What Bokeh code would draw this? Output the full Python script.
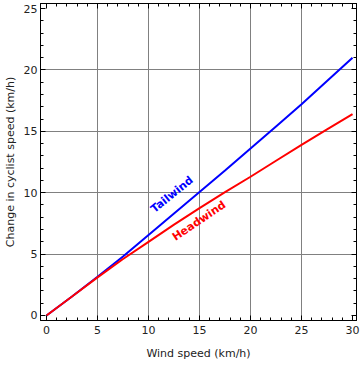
from bokeh.plotting import figure
from bokeh.models import SingleIntervalTicker, FixedTicker, LinearAxis, Range1d
from bokeh.core.properties import value
from bokeh.embed import file_html
from bokeh.resources import INLINE

wind = [0, 2.5, 5, 7.5, 10, 12.5, 15, 17.5, 20, 22.5, 25, 27.5, 30]
tailwind = [0, 1.55, 3.15, 4.8, 6.55, 8.3, 10.05, 11.8, 13.6, 15.4, 17.2, 19.1, 21.0]
headwind = [0, 1.55, 3.1, 4.6, 6.0, 7.4, 8.75, 10.05, 11.3, 12.6, 13.9, 15.15, 16.4]
label_text = ["Tailwind", "Headwind"]
label_x = [12.3, 14.95]
label_y = [9.85, 7.7]
x_major = [0, 5, 10, 15, 20, 25, 30]
x_minor = list(range(0, 31))
y_major = [0, 5, 10, 15, 20, 25]
y_minor = list(range(0, 26))

FONT = "DejaVu Sans"
TXT = "#222222"

p = figure(width=360, height=365, output_backend="svg", toolbar_location=None,
           x_range=Range1d(-0.59, 30.39), y_range=Range1d(-0.41, 25.41),
           min_border_left=40, min_border_right=4, min_border_top=3, min_border_bottom=45,
           x_axis_label="Wind speed (km/h)", y_axis_label="Change in cyclist speed (km/h)")
p.background_fill_color = "white"
p.border_fill_color = "white"
p.outline_line_color = "black"
p.outline_line_width = 1

for g in (p.xgrid, p.ygrid):
    g.grid_line_color = "#808080"
    g.grid_line_width = 1
p.xgrid.ticker = FixedTicker(ticks=x_major[1:-1])
p.ygrid.ticker = FixedTicker(ticks=y_major[1:-1])

def style(ax):
    ax.ticker = SingleIntervalTicker(interval=5, num_minor_ticks=5)
    ax.axis_line_color = "black"
    ax.major_tick_line_color = "black"
    ax.minor_tick_line_color = "black"
    ax.major_tick_in = 5
    ax.major_tick_out = 0
    ax.minor_tick_in = 3
    ax.minor_tick_out = 0
    ax.major_label_text_font = FONT
    ax.major_label_text_font_size = "11px"
    ax.major_label_text_color = TXT
    ax.major_label_standoff = 5
    ax.axis_label_text_font = FONT
    ax.axis_label_text_font_size = "11px"
    ax.axis_label_text_font_style = "normal"
    ax.axis_label_text_color = TXT
    ax.axis_label_standoff = 10

style(p.xaxis[0])
style(p.yaxis[0])
p.yaxis[0].major_label_standoff = 3
p.yaxis[0].axis_label_standoff = 4

def tick_only_axis(ticks, length):
    ax = LinearAxis(ticker=FixedTicker(ticks=[], minor_ticks=ticks))
    ax.axis_line_color = "black"
    ax.major_tick_line_color = None
    ax.minor_tick_line_color = "black"
    ax.major_tick_in = 0
    ax.major_tick_out = 0
    ax.minor_tick_in = length
    ax.minor_tick_out = 0
    ax.major_label_standoff = 0
    return ax

p.add_layout(tick_only_axis(x_major, 5), "above")
p.add_layout(tick_only_axis(x_minor, 3), "above")
p.add_layout(tick_only_axis(y_major, 5), "right")
p.add_layout(tick_only_axis(y_minor, 3), "right")

p.line(wind, tailwind, line_color="#0000ff", line_width=2)
p.line(wind, headwind, line_color="#ff0000", line_width=2)

p.text(x=label_x[:1], y=label_y[:1], text=label_text[:1], angle=0.68,
       text_color="#0000ff", text_font=value(FONT), text_font_size="11px",
       text_font_style="bold", text_align="center", text_baseline="middle")
p.text(x=label_x[1:], y=label_y[1:], text=label_text[1:], angle=0.595,
       text_color="#ff0000", text_font=value(FONT), text_font_size="11px",
       text_font_style="bold", text_align="center", text_baseline="middle")

open("out.html", "w").write(file_html(p, INLINE))
